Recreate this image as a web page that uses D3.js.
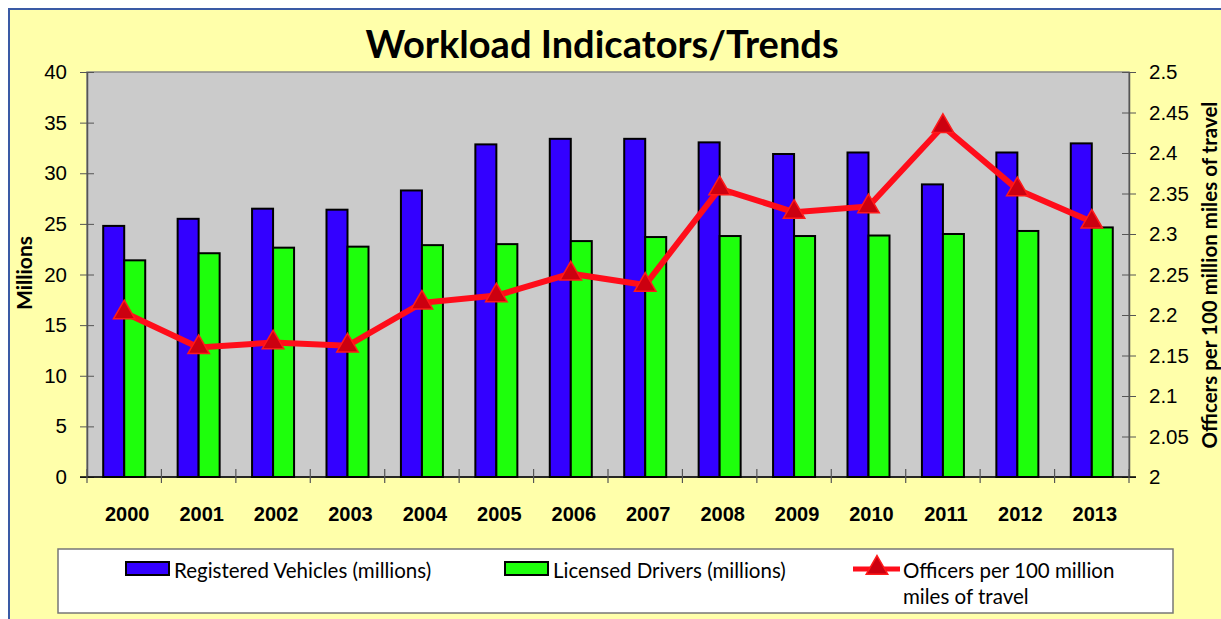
<!DOCTYPE html>
<html lang="en">
<head>
<meta charset="UTF-8">
<script src="https://cdn.jsdelivr.net/npm/d3@7"></script>
<style>
  body { margin: 0; background: #fff; }
  svg { display: block; font-family: Lato, "Open Sans", sans-serif; }
  .tick text { font-size: 20.5px; fill: #000; }
  .xax .tick text { font-weight: bold; font-size: 20px; }
</style>
</head>
<body>
<svg></svg>
<script>
var years = ["2000","2001","2002","2003","2004","2005","2006","2007","2008","2009","2010","2011","2012","2013"];
var vehicles = [24.8, 25.5, 26.5, 26.4, 28.3, 32.85, 33.4, 33.4, 33.05, 31.9, 32.05, 28.9, 32.05, 32.95];
var drivers  = [21.4, 22.1, 22.65, 22.75, 22.9, 23.0, 23.3, 23.7, 23.8, 23.8, 23.85, 24.0, 24.3, 24.65];
var officers = [2.203, 2.160, 2.166, 2.162, 2.215, 2.224, 2.251, 2.237, 2.356, 2.327, 2.334, 2.433, 2.355, 2.315];
var leftTicks = [0, 5, 10, 15, 20, 25, 30, 35, 40];
var rightTicks = [2, 2.05, 2.1, 2.15, 2.2, 2.25, 2.3, 2.35, 2.4, 2.45, 2.5];
var seriesNames = ["Registered Vehicles (millions)", "Licensed Drivers (millions)"];

var W = 1221, H = 619;
var svg = d3.select("svg").attr("width", W).attr("height", H);

// chart background + frame
svg.append("rect").attr("x", 9).attr("y", 9).attr("width", W).attr("height", H)
  .attr("fill", "#ffffaa").attr("stroke", "#3a5aa5").attr("stroke-width", 2);

var pL = 87, pR = 1129, pT = 72, pB = 477;

var x = d3.scaleBand().domain(years).range([pL, pR]).paddingInner(0).paddingOuter(0);
var x1 = d3.scaleBand().domain(["v","d"]).range([0, x.bandwidth()]).paddingInner(0).paddingOuter(0.772);
var y = d3.scaleLinear().domain([0, 40]).range([pB, pT]);
var y2 = d3.scaleLinear().domain([2, 2.5]).range([pB, pT]);

svg.append("rect").attr("x", pL).attr("y", pT).attr("width", pR - pL).attr("height", pB - pT)
  .attr("fill", "#cbcbcb").attr("stroke", "#8a8a8a").attr("stroke-width", 1.5);

svg.append("text").attr("x", 602).attr("y", 58).attr("text-anchor", "middle")
  .attr("font-size", 38).attr("font-weight", "bold").text("Workload Indicators/Trends");

// bars
var grp = svg.append("g").selectAll("g").data(years).enter().append("g")
  .attr("transform", function(d) { return "translate(" + x(d) + ",0)"; });
grp.append("rect").attr("x", x1("v")).attr("width", x1.bandwidth())
  .attr("y", function(d, i) { return y(vehicles[i]); })
  .attr("height", function(d, i) { return y(0) - y(vehicles[i]); })
  .attr("fill", "#3300ff").attr("stroke", "#000").attr("stroke-width", 2);
grp.append("rect").attr("x", x1("d")).attr("width", x1.bandwidth())
  .attr("y", function(d, i) { return y(drivers[i]); })
  .attr("height", function(d, i) { return y(0) - y(drivers[i]); })
  .attr("fill", "#1eff0c").attr("stroke", "#000").attr("stroke-width", 2);

// axes
var yAxis = d3.axisLeft(y).tickValues(leftTicks).tickSizeInner(7).tickSizeOuter(0).tickPadding(13);
var ga = svg.append("g").attr("transform", "translate(" + pL + ",0)").call(yAxis);
ga.selectAll(".tick line").attr("x2", -7).attr("x1", 7);

var y2Axis = d3.axisRight(y2).tickValues(rightTicks).tickSizeInner(7).tickSizeOuter(0).tickPadding(13)
  .tickFormat(function(d) { return d3.format("")(+d.toFixed(2)); });
var gb = svg.append("g").attr("transform", "translate(" + pR + ",0)").call(y2Axis);
gb.selectAll(".tick line").attr("x1", -7).attr("x2", 7);

var xAxis = d3.axisBottom(x).tickSize(0).tickPadding(30);
var gx = svg.append("g").attr("class", "xax").attr("transform", "translate(0," + pB + ")").call(xAxis);
gx.select(".domain").remove();
gx.selectAll(".tick text").attr("dx", 3);
svg.append("line").attr("x1", pL - 7).attr("x2", pR + 7).attr("y1", pB).attr("y2", pB)
  .attr("stroke", "#000").attr("stroke-width", 1.5);
svg.append("g").selectAll("line").data(years.concat(["end"])).enter().append("line")
  .attr("x1", function(d, i) { return pL + i * x.step(); })
  .attr("x2", function(d, i) { return pL + i * x.step(); })
  .attr("y1", pB - 8).attr("y2", pB + 6)
  .attr("stroke", "#555").attr("stroke-width", 1.2);
[ga, gb].forEach(function(g) {
  g.select(".domain").attr("stroke", "#555").attr("stroke-width", 1.5);
  g.selectAll(".tick line").attr("stroke", "#555");
});

// line series
var cx = function(i) { return x(years[i]) + x.bandwidth() / 2; };
var line = d3.line().x(function(d, i) { return cx(i); }).y(function(d) { return y2(d); });
svg.append("path").datum(officers).attr("d", line).attr("fill", "none")
  .attr("stroke", "#ff0d1a").attr("stroke-width", 6).attr("stroke-linejoin", "miter");
var tri = d3.symbol().type(d3.symbolTriangle).size(200);
svg.append("g").selectAll("path").data(officers).enter().append("path")
  .attr("d", tri)
  .attr("transform", function(d, i) { return "translate(" + cx(i) + "," + y2(d) + ")"; })
  .attr("fill", "#cc0010").attr("stroke", "#ff1a1a").attr("stroke-width", 1.5);

// axis titles
svg.append("text").attr("transform", "translate(32,273) rotate(-90)").attr("text-anchor", "middle")
  .attr("font-size", 21).attr("font-weight", "bold").text("Millions");
svg.append("text").attr("transform", "translate(1217,275) rotate(-90)").attr("text-anchor", "middle")
  .attr("font-size", 20.5).attr("font-weight", "bold").text("Officers per 100 million miles of travel");

// legend
var lg = svg.append("g");
lg.append("rect").attr("x", 58).attr("y", 549).attr("width", 1115).attr("height", 64)
  .attr("fill", "#fff").attr("stroke", "#777").attr("stroke-width", 1.5);
var sw = [{x: 126, c: "#3300ff"}, {x: 505, c: "#1eff0c"}];
sw.forEach(function(s, i) {
  lg.append("rect").attr("x", s.x).attr("y", 562).attr("width", 43).attr("height", 13)
    .attr("fill", s.c).attr("stroke", "#000").attr("stroke-width", 2);
  lg.append("text").attr("x", s.x + 48).attr("y", 578).attr("font-size", 20.5).text(seriesNames[i]);
});
lg.append("line").attr("x1", 853).attr("x2", 900).attr("y1", 569).attr("y2", 569)
  .attr("stroke", "#ff0d1a").attr("stroke-width", 5);
lg.append("path").attr("d", tri).attr("transform", "translate(877,568)")
  .attr("fill", "#cc0010").attr("stroke", "#ff1a1a").attr("stroke-width", 1.5);
lg.append("text").attr("x", 903).attr("y", 578).attr("font-size", 20.5).text("Officers per 100 million");
lg.append("text").attr("x", 903).attr("y", 604).attr("font-size", 20.5).text("miles of travel");
</script>
</body>
</html>
